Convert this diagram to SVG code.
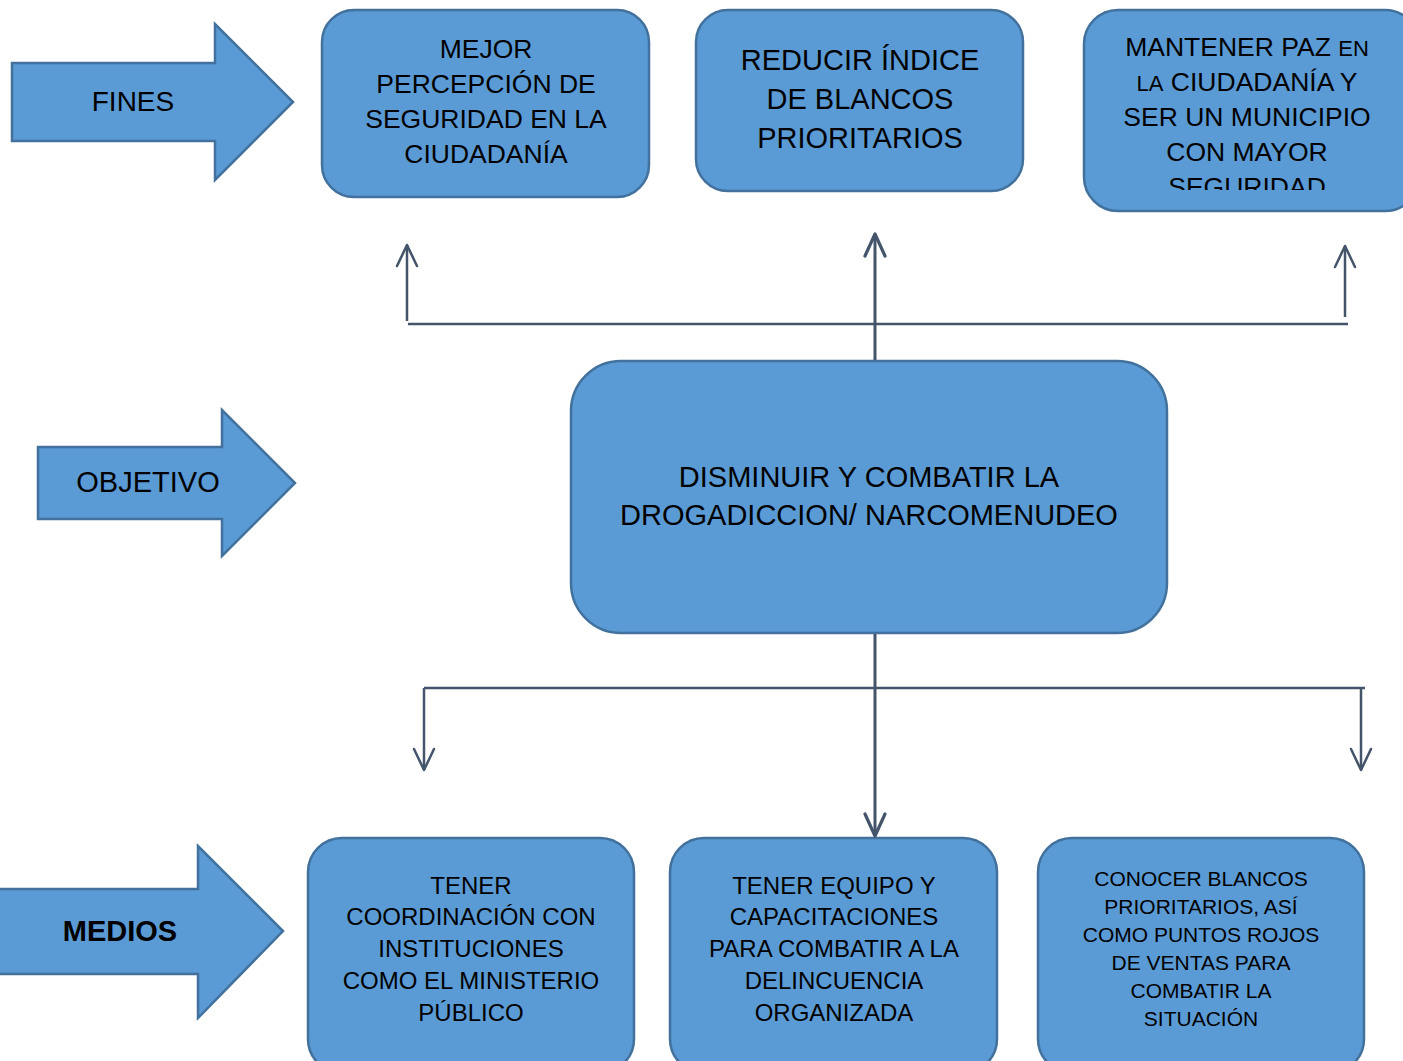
<svg xmlns="http://www.w3.org/2000/svg" width="1403" height="1061" viewBox="0 0 1403 1061">
<style>
.node{fill:#5B9BD5;stroke:#41719C;stroke-width:2.5}
.t{font-family:"Liberation Sans",Arial,sans-serif;fill:#000;text-anchor:middle}
.conn{stroke:#44546A;stroke-width:2.5;fill:none}
.thick{stroke-width:3}
</style>
<defs>
<marker id="ah" markerUnits="userSpaceOnUse" markerWidth="30" markerHeight="30" refX="0" refY="0" viewBox="-25 -15 30 30" orient="auto" overflow="visible">
<path d="M -21,-10 L 0,0 L -21,10" fill="none" stroke="#44546A" stroke-width="2.5" stroke-linecap="round" stroke-linejoin="round"/>
</marker>
<marker id="ahb" markerUnits="userSpaceOnUse" markerWidth="30" markerHeight="30" refX="0" refY="0" viewBox="-25 -15 30 30" orient="auto" overflow="visible">
<path d="M -22,-10 L 0,0 L -22,10" fill="none" stroke="#44546A" stroke-width="3.2" stroke-linecap="round" stroke-linejoin="round"/>
</marker>
<clipPath id="c3"><rect x="1084" y="0" width="330" height="190"/></clipPath>
</defs>
<rect width="1403" height="1061" fill="#fff"/>

<g id="fines">
<path class="node" d="M12,63 L215,63 L215,24 L293,102 L215,180 L215,141 L12,141 Z"/>
<text class="t" x="133" y="110.5" font-size="28">FINES</text>
</g>
<g id="objetivo">
<path class="node" d="M38,447 L222,447 L222,410 L295,483 L222,556 L222,519 L38,519 Z"/>
<text class="t" x="148" y="491.5" font-size="29">OBJETIVO</text>
</g>
<g id="medios">
<path class="node" d="M-2,889 L198,889 L198,846 L283,931 L198,1018 L198,974 L-2,974 Z"/>
<text class="t" x="120" y="940.5" font-size="29" font-weight="bold">MEDIOS</text>
</g>

<g id="fin1">
<rect class="node" x="322" y="10" width="327" height="187" rx="32"/>
<text class="t" font-size="26.5"><tspan x="486" y="57.5">MEJOR</tspan><tspan x="486" y="92.5">PERCEPCIÓN DE</tspan><tspan x="486" y="127.5">SEGURIDAD EN LA</tspan><tspan x="486" y="162.5">CIUDADANÍA</tspan></text>
</g>
<g id="fin2">
<rect class="node" x="696" y="10" width="327" height="181" rx="32"/>
<text class="t" font-size="29"><tspan x="860" y="69.5">REDUCIR ÍNDICE</tspan><tspan x="860" y="108.5">DE BLANCOS</tspan><tspan x="860" y="147.5">PRIORITARIOS</tspan></text>
</g>
<g id="fin3">
<rect class="node" x="1084" y="10" width="335" height="201" rx="34"/>
<text class="t" font-size="26.5" clip-path="url(#c3)"><tspan x="1247" y="55.5">MANTENER PAZ <tspan font-size="22">EN</tspan></tspan><tspan x="1247" y="90.5"><tspan font-size="22">LA</tspan> CIUDADANÍA Y</tspan><tspan x="1247" y="125.5">SER UN MUNICIPIO</tspan><tspan x="1247" y="160.5">CON MAYOR</tspan><tspan x="1247" y="195.5">SEGURIDAD</tspan></text>
</g>

<g id="objetivo-box">
<rect class="node" x="571" y="361" width="596" height="272" rx="50"/>
<text class="t" font-size="29"><tspan x="869" y="486.5">DISMINUIR Y COMBATIR LA</tspan><tspan x="869" y="524.5">DROGADICCION/ NARCOMENUDEO</tspan></text>
</g>

<g id="medio1">
<rect class="node" x="308" y="838" width="326" height="235" rx="34"/>
<text class="t" font-size="24"><tspan x="471" y="893.6">TENER</tspan><tspan x="471" y="924.6">COORDINACIÓN CON</tspan><tspan x="471" y="956.6">INSTITUCIONES</tspan><tspan x="471" y="988.6">COMO EL MINISTERIO</tspan><tspan x="471" y="1020.6">PÚBLICO</tspan></text>
</g>
<g id="medio2">
<rect class="node" x="670" y="838" width="327" height="235" rx="34"/>
<text class="t" font-size="24"><tspan x="834" y="893.6">TENER EQUIPO Y</tspan><tspan x="834" y="924.6">CAPACITACIONES</tspan><tspan x="834" y="956.6">PARA COMBATIR A LA</tspan><tspan x="834" y="988.6">DELINCUENCIA</tspan><tspan x="834" y="1020.6">ORGANIZADA</tspan></text>
</g>
<g id="medio3">
<rect class="node" x="1038" y="838" width="326" height="235" rx="34"/>
<text class="t" font-size="21"><tspan x="1201" y="885.5">CONOCER BLANCOS</tspan><tspan x="1201" y="913.5">PRIORITARIOS, ASÍ</tspan><tspan x="1201" y="941.5">COMO PUNTOS ROJOS</tspan><tspan x="1201" y="969.5">DE VENTAS PARA</tspan><tspan x="1201" y="997.5">COMBATIR LA</tspan><tspan x="1201" y="1025.5">SITUACIÓN</tspan></text>
</g>

<g id="connectors">
<line class="conn" x1="408" y1="324" x2="1348" y2="324"/>
<line class="conn" x1="407" y1="321" x2="407" y2="245" marker-end="url(#ah)"/>
<line class="conn thick" x1="875" y1="360" x2="875" y2="234" marker-end="url(#ahb)"/>
<line class="conn" x1="1345" y1="317" x2="1345" y2="246" marker-end="url(#ah)"/>
<line class="conn thick" x1="875" y1="634" x2="875" y2="836" marker-end="url(#ahb)"/>
<line class="conn" x1="424" y1="688" x2="1365" y2="688"/>
<line class="conn" x1="424" y1="688" x2="424" y2="770" marker-end="url(#ah)"/>
<line class="conn" x1="1361" y1="688" x2="1361" y2="770" marker-end="url(#ah)"/>
</g>
</svg>
